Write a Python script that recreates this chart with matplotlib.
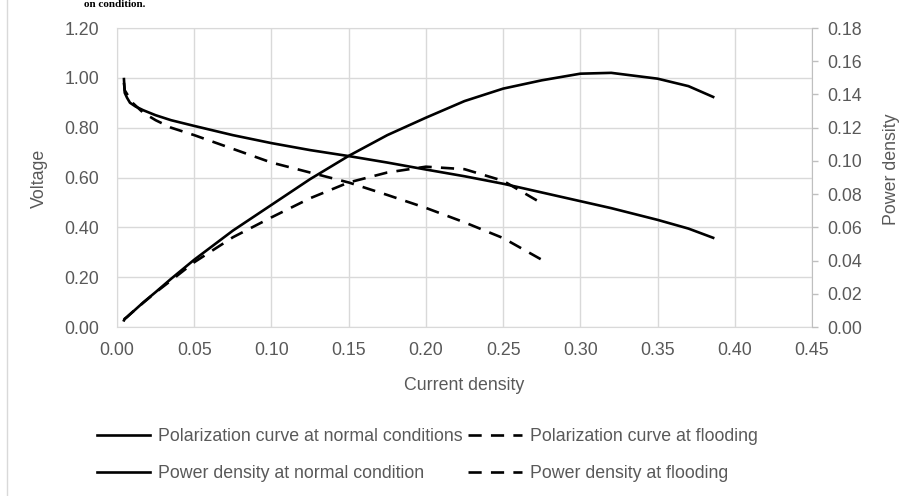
import numpy as np
import matplotlib
matplotlib.use('Agg')
import matplotlib.pyplot as plt
from matplotlib.lines import Line2D

# current density (x), voltage and power density
x_norm = [0.0045, 0.005, 0.0065, 0.0084, 0.012, 0.017, 0.025, 0.035, 0.05, 0.075,
          0.10, 0.125, 0.15, 0.175, 0.20, 0.225, 0.25, 0.275, 0.30, 0.32, 0.35, 0.37, 0.386]
v_norm = [0.995, 0.94, 0.92, 0.90, 0.885, 0.87, 0.85, 0.83, 0.807, 0.77,
          0.738, 0.71, 0.686, 0.66, 0.632, 0.605, 0.575, 0.54, 0.505, 0.477, 0.43, 0.395, 0.358]
p_norm = [0.004, 0.005, 0.006, 0.0076, 0.0106, 0.0148, 0.021, 0.029, 0.0405, 0.058,
          0.0735, 0.089, 0.103, 0.1155, 0.126, 0.136, 0.1435, 0.1485, 0.1525, 0.153, 0.1495, 0.145, 0.1385]

x_flood = [0.0045, 0.005, 0.007, 0.010, 0.017, 0.025, 0.035, 0.05, 0.075,
           0.10, 0.125, 0.15, 0.175, 0.20, 0.225, 0.25, 0.275]
v_flood = [0.98, 0.95, 0.93, 0.90, 0.86, 0.83, 0.80, 0.77, 0.715,
           0.66, 0.62, 0.58, 0.53, 0.478, 0.42, 0.357, 0.27]
p_flood = [0.0045, 0.0048, 0.0065, 0.009, 0.0146, 0.0208, 0.028, 0.039, 0.054,
           0.066, 0.0775, 0.087, 0.093, 0.0965, 0.095, 0.088, 0.0745]

labels = ['Polarization curve at normal conditions', 'Power density at normal condition',
          'Polarization curve at flooding', 'Power density at flooding']

plt.rcParams['font.family'] = ['Liberation Sans', 'DejaVu Sans']
fs = 12.8
grey = '#595959'
dash = (5, 3.5)
lw = 1.9

fig = plt.figure(figsize=(9.09, 4.96), dpi=100)
ax = fig.add_axes([117/909, 1-327/496, 695/909, 299/496])
ax2 = ax.twinx()

l1, = ax.plot(x_norm, v_norm, color='black', lw=lw)
l3, = ax.plot(x_flood, v_flood, color='black', lw=lw, dashes=dash)
l2, = ax2.plot(x_norm, p_norm, color='black', lw=lw)
l4, = ax2.plot(x_flood, p_flood, color='black', lw=lw, dashes=dash)

ax.set_xlim(0, 0.45)
ax.set_ylim(0, 1.2)
ax2.set_ylim(0, 0.18)
ax.set_xticks(np.arange(0, 0.451, 0.05))
ax.set_yticks(np.arange(0, 1.201, 0.2))
ax2.set_yticks(np.arange(0, 0.181, 0.02))
ax.xaxis.set_major_formatter(matplotlib.ticker.FormatStrFormatter('%.2f'))
ax.yaxis.set_major_formatter(matplotlib.ticker.FormatStrFormatter('%.2f'))
ax2.yaxis.set_major_formatter(matplotlib.ticker.FormatStrFormatter('%.2f'))

ax.grid(True, color='#d9d9d9', lw=1)
ax.set_axisbelow(True)
ax.tick_params(axis='y', length=0, pad=13, labelsize=fs, labelcolor=grey)
ax.tick_params(axis='x', length=0, pad=11, labelsize=fs, labelcolor=grey)
ax2.tick_params(axis='y', length=4, width=1, color='#bfbfbf', pad=7, labelsize=fs, labelcolor=grey)

for s in ['left', 'top', 'bottom']:
    ax.spines[s].set_color('#d9d9d9')
for s in ['left', 'top', 'bottom']:
    ax2.spines[s].set_visible(False)
ax.spines['right'].set_visible(False)
ax2.spines['right'].set_color('#bfbfbf')

ax.set_xlabel('Current density', fontsize=fs, color=grey)
ax.xaxis.set_label_coords(0.5, -0.167)
ax.set_ylabel('Voltage', fontsize=fs, color=grey)
ax.yaxis.set_label_coords(-0.099, 0.497)
ax2.set_ylabel('Power density', fontsize=fs, color=grey)
ax2.yaxis.set_label_coords(1.102, 0.528)

fig.legend([l1, l2, l3, l4], labels, ncol=2, loc='upper left',
           bbox_to_anchor=(97/909, 1-428/496), frameon=False, fontsize=fs,
           handlelength=3.0, handletextpad=0.45, columnspacing=0.3,
           labelspacing=1.12, borderpad=0, borderaxespad=0, labelcolor=grey)

# page edge on the left and the text line above the chart
fig.add_artist(Line2D([7/909, 7/909], [0, 1], color='#d9d9d9', lw=1))
fig.text(145/909, 1.0, 'on condition.', ha='right', va='top',
         fontsize=8, fontweight='bold', family='Liberation Serif')

plt.savefig('out.png', dpi=100)
